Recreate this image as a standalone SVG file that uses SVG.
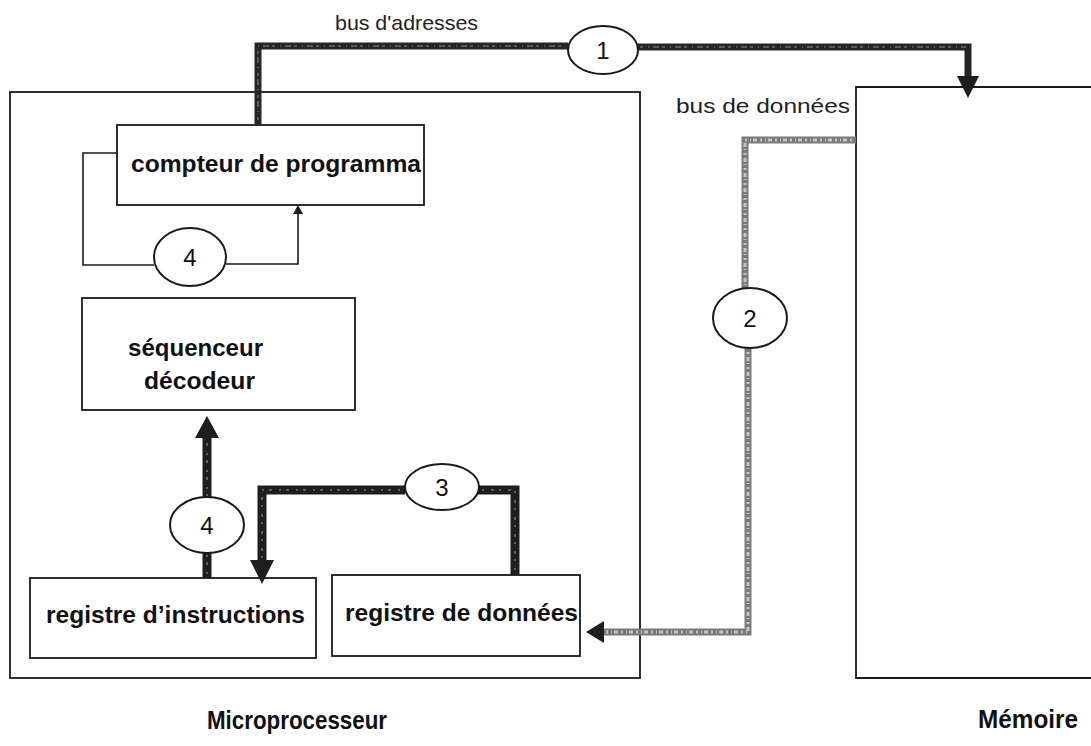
<svg xmlns="http://www.w3.org/2000/svg" width="1091" height="746" viewBox="0 0 1091 746">
  <style>
    .box { fill: none; stroke: #1a1a1a; stroke-width: 1.8; }
    .thin { fill: none; stroke: #1a1a1a; stroke-width: 1.6; }
    .bus { fill: none; stroke: #262626; stroke-width: 7; stroke-linejoin: miter; }
    .busgrain { fill: none; stroke: #5a5a5a; stroke-width: 2; stroke-dasharray: 3 5 1 4 6 3; }
    .dbus { fill: none; stroke: #7a7a7a; stroke-width: 7; stroke-linejoin: miter; }
    .dbusgrain { fill: none; stroke: #c4c4c4; stroke-width: 3; stroke-dasharray: 2 3 4 2 1 3; }
    .heavy { fill: none; stroke: #1e1e1e; stroke-width: 9; stroke-linejoin: miter; }
    .heavygrain { fill: none; stroke: #5e5e5e; stroke-width: 2; stroke-dasharray: 2 7 3 5; }
    .step { fill: #fff; stroke: #1a1a1a; stroke-width: 2; }
    .num { font-family: "Liberation Sans", Arial, sans-serif; font-size: 24px; fill: #111; text-anchor: middle; }
    .lbl { font-family: "Liberation Sans", Arial, sans-serif; font-weight: bold; font-size: 23px; fill: #111; }
    .bus-lbl { font-family: "Liberation Sans", Arial, sans-serif; font-size: 21px; fill: #222; }
    .title { font-family: "Liberation Sans", Arial, sans-serif; font-weight: bold; font-size: 25px; fill: #111; }
    .head { fill: #1e1e1e; }
  </style>

  <rect width="1091" height="746" fill="#fff"/>

  <!-- outer units -->
  <g id="microprocesseur">
    <rect class="box" x="10" y="92" width="630" height="586"/>
    <text class="title" x="207" y="729" textLength="180" lengthAdjust="spacingAndGlyphs">Microprocesseur</text>
  </g>
  <g id="memoire">
    <path class="box" d="M1095,87 H856 V678 H1095"/>
    <text class="title" x="978" y="728" textLength="100" lengthAdjust="spacingAndGlyphs">Mémoire</text>
  </g>

  <!-- internal blocks -->
  <g id="compteur">
    <rect class="box" x="117" y="125" width="307" height="80"/>
    <text class="lbl" x="131" y="172" textLength="290" lengthAdjust="spacingAndGlyphs">compteur de programma</text>
  </g>
  <g id="sequenceur">
    <rect class="box" x="82" y="298" width="273" height="112"/>
    <text class="lbl" x="128" y="356" textLength="135" lengthAdjust="spacingAndGlyphs">séquenceur</text>
    <text class="lbl" x="144" y="389" textLength="111" lengthAdjust="spacingAndGlyphs">décodeur</text>
  </g>
  <g id="registre-instructions">
    <rect class="box" x="30" y="578" width="286" height="80"/>
    <text class="lbl" x="46" y="623" textLength="259" lengthAdjust="spacingAndGlyphs">registre d’instructions</text>
  </g>
  <g id="registre-donnees">
    <rect class="box" x="332" y="575" width="248" height="81"/>
    <text class="lbl" x="345" y="621" textLength="233" lengthAdjust="spacingAndGlyphs">registre de données</text>
  </g>

  <!-- connectors -->
  <g id="connectors">
    <!-- address bus: program counter to memory -->
    <path class="bus" d="M258,125 V46 H568"/>
    <path class="busgrain" d="M258,120 V46 H566"/>
    <path class="bus" d="M638,47 H968 V78"/>
    <path class="busgrain" d="M640,47 H966"/>
    <polygon class="head" points="957,76 979,76 968,98"/>
    <text class="bus-lbl" x="335" y="30" textLength="143" lengthAdjust="spacingAndGlyphs">bus d'adresses</text>

    <!-- data bus: memory to data register -->
    <path class="dbus" d="M856,140 H745 V289"/>
    <path class="dbusgrain" d="M852,140 H745 V287"/>
    <path class="dbus" d="M748,348 V632 H602"/>
    <path class="dbusgrain" d="M748,352 V632 H606"/>
    <polygon class="head" points="604,621 604,643 586,632"/>
    <text class="bus-lbl" x="676" y="113" textLength="174" lengthAdjust="spacingAndGlyphs">bus de données</text>

    <!-- program counter increment loop -->
    <path class="thin" d="M117,153 H83 V265 H154"/>
    <path class="thin" d="M226,264 H298 V212"/>
    <polygon class="head" points="293,214 303,214 298,205"/>

    <!-- instruction register to sequencer -->
    <path class="heavy" d="M207,578 V436"/>
    <path class="heavygrain" d="M207,574 V440"/>
    <polygon class="head" points="195,438 219,438 207,416"/>

    <!-- data register to instruction register -->
    <path class="heavy" d="M405,490 H262 V562"/>
    <path class="heavygrain" d="M400,490 H262 V558"/>
    <polygon class="head" points="250,560 274,560 262,584"/>
    <path class="heavy" d="M478,490 H515 V575"/>
    <path class="heavygrain" d="M482,490 H515 V570"/>

    <!-- step markers -->
    <ellipse class="step" cx="603" cy="50" rx="35" ry="24"/>
    <text class="num" x="603" y="59">1</text>
    <ellipse class="step" cx="750" cy="318" rx="37" ry="30"/>
    <text class="num" x="750" y="327">2</text>
    <ellipse class="step" cx="442" cy="487" rx="37" ry="23"/>
    <text class="num" x="442" y="496">3</text>
    <ellipse class="step" cx="190" cy="257" rx="36" ry="29"/>
    <text class="num" x="190" y="266">4</text>
    <ellipse class="step" cx="207" cy="525" rx="37" ry="28"/>
    <text class="num" x="207" y="534">4</text>
  </g>
</svg>
